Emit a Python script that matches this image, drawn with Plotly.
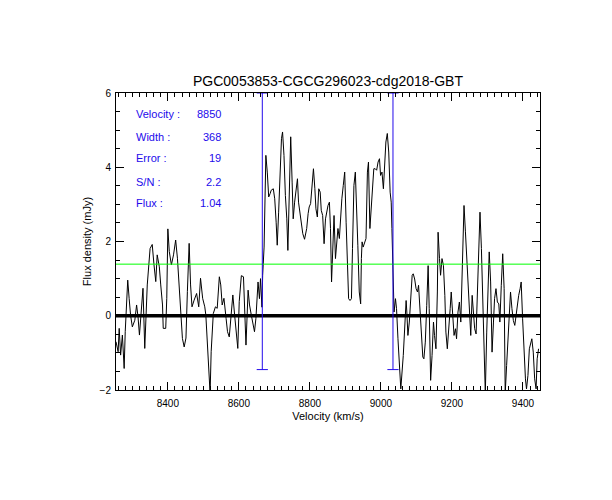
import plotly.graph_objects as go

# HI spectrum
velocity = [
    8254, 8260, 8263, 8267, 8272, 8277, 8280, 8284, 8287, 8291, 8295, 8300, 8307, 8312, 8316,
    8320, 8324, 8327, 8330, 8335, 8339, 8342, 8350, 8356, 8361, 8366, 8370, 8376, 8380, 8385,
    8387, 8394, 8397, 8400, 8404, 8410, 8416, 8422, 8427, 8431, 8436, 8441, 8446, 8451, 8455,
    8460, 8464, 8468, 8474, 8481, 8487, 8492, 8498, 8504, 8507, 8511, 8515, 8519, 8522, 8528,
    8534, 8539, 8545, 8549, 8553, 8558, 8564, 8568, 8573, 8579, 8583, 8588, 8592, 8597, 8601,
    8607, 8613, 8616, 8620, 8626, 8630, 8635, 8639, 8644, 8648,
    8654, 8658, 8661, 8665, 8667, 8671, 8673, 8676, 8680, 8684, 8688, 8691, 8697, 8701, 8705,
    8708, 8712, 8716, 8720, 8723, 8727, 8731, 8735, 8738, 8742, 8746, 8750, 8753, 8757, 8761,
    8765, 8768, 8772, 8776, 8780, 8785, 8791, 8795, 8798, 8802, 8806, 8810, 8814, 8817, 8821,
    8825, 8829, 8832, 8836, 8840, 8844, 8847, 8851, 8855, 8858,
    8861, 8864, 8868, 8872, 8875, 8879, 8883, 8887, 8890, 8894, 8898, 8902, 8905, 8909, 8913,
    8917, 8920, 8924, 8928, 8932, 8935, 8939, 8943, 8945, 8947, 8950, 8954, 8958, 8962, 8965,
    8969, 8973, 8977, 8980, 8984, 8988, 8992, 8996, 8999, 9003, 9007, 9011, 9014, 9018, 9022,
    9026, 9029, 9031, 9035, 9037, 9041, 9044, 9048, 9052, 9056,
    9063, 9067, 9071, 9073, 9076, 9080, 9084, 9088, 9091, 9095, 9099, 9103, 9106, 9110, 9114,
    9118, 9121, 9125, 9129, 9133, 9136, 9140, 9144, 9148, 9151, 9155, 9159, 9161, 9165, 9168,
    9172, 9176, 9180, 9183, 9187, 9191, 9195, 9198, 9202, 9206, 9210, 9213, 9217, 9221, 9225,
    9228, 9232, 9234, 9238, 9242, 9245, 9249, 9253, 9257, 9260,
    9264, 9268, 9272, 9275, 9279, 9283, 9287, 9290, 9294, 9298, 9302, 9305, 9309, 9313, 9317,
    9320, 9324, 9328, 9332, 9335, 9339, 9343, 9347, 9350, 9354, 9358, 9362, 9365, 9369, 9373,
    9377, 9380, 9384, 9388, 9392, 9395, 9399, 9403, 9407, 9410, 9414, 9418, 9422, 9425, 9429,
    9433, 9437, 9440, 9444,
]
flux = [
    -0.70, -0.97, -0.34, -1.06, -0.52, -1.42, -0.43, 0.29, 0.96, 0.47, 0.02, -0.30, -0.12, 0.29, -0.03,
    -0.52, 0.02, 0.38, 0.74, -0.88, 0.11, 0.83, 1.81, 1.92, 1.37, 0.92, 1.64, 1.32, 0.83, 0.29,
    -0.34, -0.34, 0.47, 2.34, 1.73, 1.37, 1.64, 2.04, 1.55, 0.83, 0.11, -0.61, -0.84, -0.60, 0.65,
    1.95, 0.83, 0.24, 0.42, 0.60, 0.24, 1.01, 0.47, 0.24, 0.02, -0.61, -1.42, -2.10, -0.97, 0.06,
    0.24, 0.20, 1.05, 0.83, 0.29, 0.47, -0.07, -0.43, -0.57, 0.11, 0.56, 0.02, -0.34, -0.88, 0.38,
    1.08, 1.05, 0.20, -0.79, 0.69, 0.29, 0.02, -0.16, -0.43, -0.07,
    0.91, 0.46, 1.00, 0.23, 1.09, 1.85, 2.70, 4.32, 3.87, 3.20, 3.29, 3.38, 3.42, 3.15, 2.52,
    1.90, 2.79, 3.96, 4.77, 4.95, 4.32, 3.24, 2.61, 1.76, 3.24, 4.82, 3.60, 2.61, 3.06, 3.42,
    3.69, 3.06, 2.79, 2.43, 2.21, 2.06, 2.35, 2.75, 2.93, 3.02, 3.51, 3.96, 3.42, 2.88, 2.66,
    3.42, 3.33, 2.84, 2.70, 1.94, 2.61, 2.79, 2.97, 3.06, 2.35,
    0.91, 1.90, 2.70, 1.54, 1.99, 2.35, 2.08, 2.79, 3.15, 3.51, 3.87, 2.52, 1.54, 0.46, 0.41,
    0.46, 1.81, 3.51, 3.87, 2.97, 1.90, 0.64, 0.32, 1.54, 1.99, 1.85, 1.99, 2.08, 3.87, 4.14,
    2.35, 3.06, 3.60, 3.96, 3.96, 3.92, 4.14, 4.23, 3.78, 3.87, 3.42, 4.05, 4.68, 4.91, 4.41,
    3.33, 3.06, 2.35, 1.22, 0.10, 0.46, 0.19, -0.62, -1.43, -1.97,
    -1.07, -0.35, 0.41, 0.10, -0.53, -0.17, 0.64, 1.09, 1.13, 0.99, 0.73, 0.64, 0.82, 0.10, -0.62,
    -1.11, -1.16, -0.71, 0.28, 1.35, 0.19, -1.74, -1.07, -0.17, -0.53, -0.89, 0.64, 2.25, 1.54, 1.09,
    1.54, 1.36, 0.55, -0.44, -0.89, -0.44, 0.19, 0.64, 0.01, -0.53, -0.35, -0.62, 0.10, 0.37, -0.17,
    0.82, 2.17, 2.97, 2.26, 1.45, 0.82, 0.01, -0.53, 0.55, 0.10,
    -0.35, -0.49, 0.73, 1.76, 2.79, 1.81, 0.28, -0.98, -2.10, -0.44, 0.73, 1.72, 0.91, -0.98, -0.17,
    0.46, 0.73, 0.37, 0.32, -0.17, 0.82, 1.67, 0.73, -2.10, -1.34, -0.53, 0.19, 0.64, 0.19, -0.13,
    -0.26, 0.01, 0.37, 0.55, 0.73, 0.91, -0.08, -0.98, -1.70, -1.97, -1.61, -0.89, -0.71, -0.62, -0.98,
    -1.70, -1.97, -1.16, -0.89,
]

title = "PGC0053853-CGCG296023-cdg2018-GBT"
stat_labels = ["Velocity :", "Width :", "Error :", "S/N :", "Flux :"]
stat_values = ["8850", "368", "19", "2.2", "1.04"]
v_center = 8850
v_width = 368
green_level = 1.39
marker_bottom = -1.45
x_range = [8254, 9448]
y_range = [-2, 6]

BLUE = "rgb(35,10,235)"
FONT = "Liberation Sans"

fig = go.Figure()

# spectrum
fig.add_trace(go.Scatter(x=velocity, y=flux, mode="lines",
                         line=dict(color="black", width=1)))

# zero line and the green reference level
fig.add_trace(go.Scatter(x=x_range, y=[0, 0], mode="lines",
                         line=dict(color="black", width=3.5)))
fig.add_trace(go.Scatter(x=x_range, y=[green_level, green_level], mode="lines",
                         line=dict(color="#00ff00", width=1)))

# width markers
for v in [v_center - v_width / 2, v_center + v_width / 2]:
    fig.add_trace(go.Scatter(x=[v, v], y=[marker_bottom, y_range[1]], mode="lines+markers",
                             line=dict(color=BLUE, width=1),
                             marker=dict(symbol="line-ew", size=8,
                                         line=dict(color=BLUE, width=1)),
                             cliponaxis=False))

# dummy trace so the top/right tick axes get drawn
fig.add_trace(go.Scatter(x=x_range, y=y_range, mode="none", xaxis="x2", yaxis="y2",
                         hoverinfo="skip"))

# stats text block
row_y = [0.928, 0.853, 0.780, 0.701, 0.629]
for lab, val, yy in zip(stat_labels, stat_values, row_y):
    fig.add_annotation(x=0.0425, y=yy, xref="paper", yref="paper", text=lab,
                       showarrow=False, xanchor="left", yanchor="middle",
                       font=dict(color=BLUE, size=11, family=FONT))
    fig.add_annotation(x=0.253, y=yy, xref="paper", yref="paper", text=val,
                       showarrow=False, xanchor="right", yanchor="middle",
                       font=dict(color=BLUE, size=11, family=FONT))

fig.update_layout(
    width=612, height=500,
    margin=dict(l=108, r=80, t=85, b=118),
    paper_bgcolor="white", plot_bgcolor="white",
    showlegend=False,
    font=dict(family=FONT, size=11, color="black"),
    title=dict(text=title, x=0.5, xref="paper", y=1 - 73 / 500, yanchor="middle",
               font=dict(size=14, family=FONT, color="black")),
)

xticks = dict(tick0=8400, dtick=200, ticks="inside", ticklen=8, tickwidth=1, tickcolor="black",
              minor=dict(dtick=20, ticks="inside", ticklen=4, tickcolor="black", showgrid=False),
              showgrid=False, zeroline=False)
yticks = dict(tick0=0, dtick=2, ticks="inside", ticklen=8, tickwidth=1, tickcolor="black",
              minor=dict(dtick=0.5, ticks="inside", ticklen=4, tickcolor="black", showgrid=False),
              showgrid=False, zeroline=False)

fig.update_layout(
    xaxis=dict(range=x_range, showline=True, linecolor="black", linewidth=1, mirror=True,
               tickfont=dict(size=10), ticklabelstandoff=4,
               title=dict(text="Velocity (km/s)", font=dict(size=11), standoff=4), **xticks),
    yaxis=dict(range=y_range, showline=True, linecolor="black", linewidth=1, mirror=True,
               tickfont=dict(size=10), ticklabelstandoff=2,
               title=dict(text="Flux density (mJy)", font=dict(size=11), standoff=5), **yticks),
    xaxis2=dict(range=x_range, overlaying="x", side="top", anchor="y2",
                showticklabels=False, **xticks),
    yaxis2=dict(range=y_range, overlaying="y", side="right", anchor="x2",
                showticklabels=False, **yticks),
)

fig.write_html("out.html")
